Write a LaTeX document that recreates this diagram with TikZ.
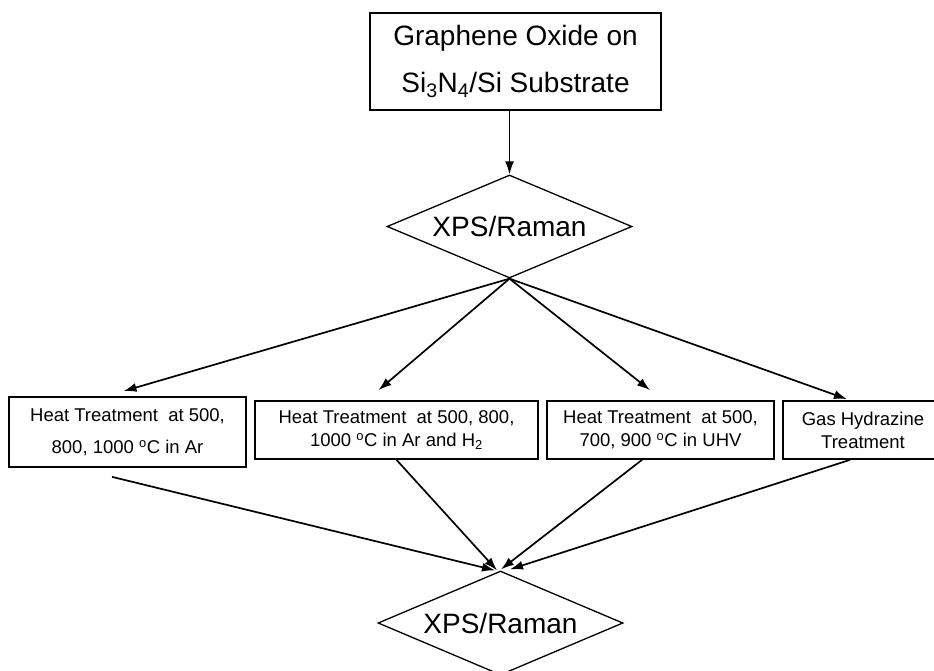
\documentclass[tikz,border=0pt]{standalone}
\usepackage{fontspec}
\setmainfont{Liberation Sans}
\usetikzlibrary{shapes.geometric,arrows.meta}
\begin{document}
\begin{tikzpicture}[x=1pt,y=-1pt,
  outline/.style={draw, line width=1.7pt, inner sep=0pt, align=center},
  bigbox/.style={outline, font=\fontsize{28}{47}\selectfont},
  box/.style={outline, font=\fontsize{18.5}{23}\selectfont},
  decision/.style={diamond, draw, line width=1.3pt, inner sep=0pt, shape aspect=2.38,
    minimum width=245pt, minimum height=103pt, font=\fontsize{28}{34}\selectfont},
  flow/.style={-{Latex[length=13pt,width=9pt]}, line width=1.7pt}]
\useasboundingbox (0,0) rectangle (934,670);

% sample and first characterisation
\node[bigbox, minimum width=291pt, minimum height=97pt] (top) at (515.5,61.5)
  {Graphene Oxide on\\Si\textsubscript{3}N\textsubscript{4}/Si Substrate};
\node[decision] (d1) at (509.5,226.5) {XPS/Raman};

% treatments
\node[box, minimum width=237pt, minimum height=70pt,
  font=\fontsize{18.5}{32}\selectfont] (b1) at (127.5,432)
  {Heat Treatment~ at 500,\\800, 1000 \textsuperscript{o}C in Ar};
\node[box, minimum width=283pt, minimum height=58pt] (b2) at (396.5,430)
  {Heat Treatment~ at 500, 800,\\1000 \textsuperscript{o}C in Ar and H\textsubscript{2}};
\node[box, minimum width=227pt, minimum height=58pt] (b3) at (660.5,430)
  {Heat Treatment~ at 500,\\700, 900 \textsuperscript{o}C in UHV};
\node[box, minimum width=160pt, minimum height=58pt] (b4) at (863,430)
  {Gas Hydrazine\\Treatment};

% final characterisation
\node[decision, minimum height=104pt] (d2) at (500.5,623) {XPS/Raman};

% connectors
\draw[flow] (top.south -| d1.north) -- (d1.north);
\draw[flow] (d1.south) -- ([xshift=-4pt,yshift=5pt]b1.north);
\draw[flow] (d1.south) -- ([xshift=-18pt,yshift=10pt]b2.north);
\draw[flow] (d1.south) -- ([xshift=-10.5pt,yshift=10pt]b3.north);
\draw[flow] (d1.south) -- ([xshift=-16pt,yshift=1pt]b4.north);

\draw[flow] ([xshift=-15.5pt,yshift=-9pt]b1.south) -- ([xshift=-5.5pt]d2.north);
\draw[flow] (b2.south) -- ([xshift=-3.5pt]d2.north);
\draw[flow] ([xshift=-18.5pt]b3.south) -- ([xshift=0.5pt,yshift=1pt]d2.north);
\draw[flow] ([xshift=-13pt]b4.south) -- ([xshift=9.5pt,yshift=1pt]d2.north);
\end{tikzpicture}
\end{document}
